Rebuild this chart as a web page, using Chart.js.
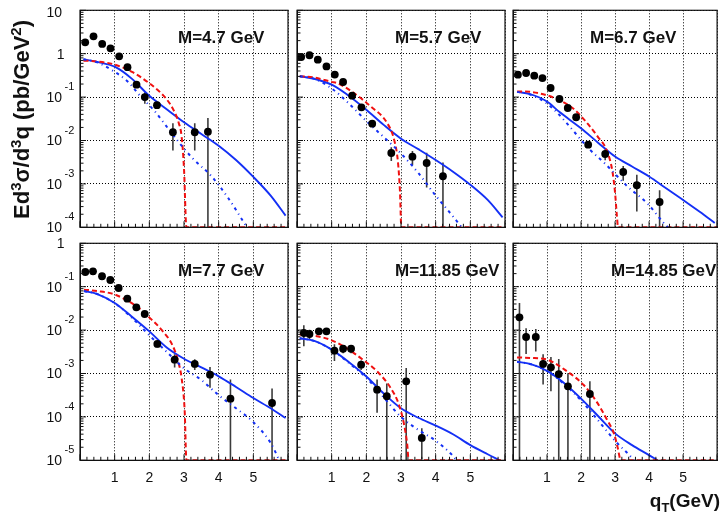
<!DOCTYPE html>
<html><head><meta charset="utf-8">
<script src="https://cdn.jsdelivr.net/npm/chart.js@4.4.1/dist/chart.umd.min.js"></script>
<style>
html,body{margin:0;padding:0;background:#fff;}
#wrap{position:relative;width:721px;height:514px;overflow:hidden;background:#fff;}
#wrap canvas{position:absolute;left:0;top:0;}
</style></head><body><div id="wrap"></div>
<script>
// ---------- labels ----------
const panelLabels = ['M=4.7 GeV','M=5.7 GeV','M=6.7 GeV','M=7.7 GeV','M=11.85 GeV','M=14.85 GeV'];
const xTickValues = [1,2,3,4,5];
const xTickLabels = ['1','2','3','4','5'];
const yDecadesTop = [10,1,0.1,0.01,0.001,0.0001];
const yBaseTop = ['10','1','10','10','10','10'];
const yExpTop = ['','','-1','-2','-3','-4'];
const yDecadesBot = [1,0.1,0.01,0.001,0.0001,0.00001];
const yBaseBot = ['1','10','10','10','10','10'];
const yExpBot = ['','-1','-2','-3','-4','-5'];

// ---------- panel 1 : M=4.7 GeV ----------
const qData1 = [0.15,0.39,0.64,0.88,1.13,1.37,1.63,1.87,2.22,2.68,3.31,3.69];
const sig1   = [1.83,2.52,1.68,1.33,0.87,0.49,0.193,0.100,0.065,0.0155,0.0155,0.016];
const err1   = [0.08,0.1,0.07,0.06,0.05,0.04,0.03,0.03,0.01,0.0096,0.0096,0.017];
const qSolid1 = [0.1,0.5,1.0,1.5,2.0,2.5,3.0,3.5,4.0,4.5,5.0,5.5,5.93];
const solid1  = [0.741,0.646,0.501,0.263,0.107,0.0525,0.0263,0.0141,0.00759,0.00355,0.00145,0.000537,0.000186];
const qDash1  = [0.1,0.5,1.0,1.5,2.0,2.3,2.5,2.7,2.85,2.93,3.0,3.07,6.0];
const dash1   = [0.692,0.661,0.562,0.380,0.209,0.132,0.0891,0.0501,0.0251,0.0126,0.00224,0.0001,0.0001];
const qDot1   = [0.1,0.5,0.9,1.39,1.72,2.16,2.49,2.83,3.26,3.79,4.27,4.8,4.9];
const dot1    = [0.741,0.631,0.427,0.224,0.110,0.0468,0.0214,0.00955,0.0038,0.00151,0.000479,0.000105,0.0000794];

// ---------- panel 2 : M=5.7 GeV ----------
const qData2 = [0.12,0.36,0.60,0.85,1.09,1.33,1.59,1.86,2.17,2.72,3.33,3.74,4.21];
const sig2   = [0.84,0.92,0.73,0.51,0.33,0.223,0.108,0.058,0.0244,0.00515,0.00423,0.00303,0.0015];
const err2   = [0.03,0.03,0.03,0.02,0.015,0.01,0.006,0.004,0.002,0.0018,0.0015,0.0022,0.0016];
const qSolid2 = [0.08,0.49,1.0,1.45,2.0,2.5,3.0,3.5,4.0,4.5,5.0,5.5,5.93];
const solid2  = [0.302,0.265,0.193,0.1135,0.0513,0.0229,0.011,0.00631,0.00355,0.00191,0.000955,0.000427,0.00017];
const qDash2  = [0.08,0.5,1.0,1.16,1.64,2.12,2.6,2.8,2.91,2.97,3.01,6.0];
const dash2   = [0.302,0.282,0.224,0.211,0.124,0.0614,0.0253,0.0105,0.00331,0.000676,0.0001,0.0001];
const qDot2   = [0.08,0.5,1.0,1.5,2.0,2.5,3.0,3.5,4.0,4.5,4.75,4.85];
const dot2    = [0.302,0.263,0.158,0.0708,0.0282,0.0120,0.00501,0.00178,0.000537,0.000178,0.0001,0.0000794];

// ---------- panel 3 : M=6.7 GeV ----------
const qData3 = [0.144,0.385,0.625,0.866,1.105,1.365,1.61,1.856,2.21,2.71,3.24,3.64,4.31];
const sig3   = [0.328,0.359,0.311,0.275,0.162,0.0904,0.0561,0.0343,0.0080,0.00489,0.00188,0.00093,0.000383];
const err3   = [0.01,0.01,0.01,0.01,0.008,0.005,0.003,0.002,0.0008,0.0014,0.0007,0.0007,0.00033];
const qSolid3 = [0.12,0.5,1.0,1.36,2.0,2.5,3.0,3.5,4.0,4.5,5.0,5.5,5.93];
const solid3  = [0.132,0.1175,0.0794,0.0457,0.0191,0.00891,0.00427,0.00251,0.00148,0.000794,0.000427,0.000224,0.000126];
const qDash3  = [0.12,0.5,1.0,1.36,1.78,2.16,2.5,2.75,2.92,3.0,3.05,3.09,6.0];
const dash3   = [0.135,0.132,0.110,0.0851,0.0537,0.0263,0.0120,0.00603,0.002,0.000631,0.0002,0.0001,0.0001];
const qDot3   = [0.12,0.5,1.0,1.36,1.8,2.22,2.7,3.38,3.95,4.44,4.55,4.65];
const dot3    = [0.132,0.115,0.0708,0.0389,0.0158,0.0066,0.00295,0.000851,0.000355,0.000123,0.0001,0.0000794];

// ---------- panel 4 : M=7.7 GeV ----------
const qData4 = [0.153,0.375,0.635,0.875,1.115,1.365,1.625,1.867,2.23,2.73,3.31,3.75,4.34,5.54];
const sig4   = [0.218,0.226,0.174,0.1426,0.0933,0.053,0.0335,0.0235,0.00479,0.00208,0.00166,0.00094,0.000263,0.000209];
const err4   = [0.01,0.01,0.008,0.006,0.004,0.003,0.002,0.0015,0.0008,0.0007,0.00046,0.00047,0.00046,0.00024];
const qSolid4 = [0.115,0.5,1.0,1.48,2.0,2.5,3.0,3.5,4.0,4.5,5.0,5.5,5.93];
const solid4  = [0.0794,0.0676,0.0421,0.0209,0.00933,0.00398,0.00219,0.00138,0.000861,0.00049,0.000272,0.000158,0.0000944];
const qDash4  = [0.115,0.5,1.0,1.625,1.96,2.35,2.68,2.83,2.93,3.02,3.07,6.0];
const dash4   = [0.0855,0.0794,0.0661,0.0355,0.0209,0.0102,0.00427,0.00191,0.000794,0.000135,0.00001,0.00001];
const qDot4   = [0.115,0.5,1.0,1.5,2.0,2.5,3.0,3.5,4.0,4.5,5.0,5.5,5.75];
const dot4    = [0.0794,0.0676,0.0417,0.0191,0.00759,0.00316,0.00132,0.000708,0.000316,0.000158,0.0000759,0.0000251,0.00001];

// ---------- panel 5 : M=11.85 GeV ----------
const qData5 = [0.197,0.36,0.63,0.85,1.08,1.33,1.56,1.85,2.31,2.59,3.15,3.6];
const sig5   = [0.00857,0.00813,0.00938,0.00938,0.00335,0.00372,0.00372,0.0016,0.000424,0.000299,0.00066,0.0000327];
const err5   = [0.0043,0.002,0.001,0.0015,0.0014,0.0008,0.0008,0.0004,0.0003,0.00029,0.00068,0.000022];
const qSolid5 = [0.08,0.5,1.0,1.5,2.0,2.5,3.0,3.5,4.0,4.5,5.0,5.5,5.85];
const solid5  = [0.00646,0.00562,0.00355,0.00182,0.000851,0.000347,0.000158,0.0000955,0.0000631,0.0000398,0.0000224,0.0000138,0.00001];
const qDash5  = [0.08,0.5,0.95,1.4,1.83,2.31,2.7,2.94,3.09,3.18,3.22,6.0];
const dash5   = [0.00794,0.00741,0.00603,0.00398,0.00229,0.00112,0.000468,0.000191,0.0000661,0.0000229,0.00001,0.00001];
const qDot5   = [0.08,0.5,1.0,1.5,2.0,2.5,3.0,3.5,4.0,4.5,4.6];
const dot5    = [0.00646,0.00562,0.00355,0.00174,0.000794,0.000282,0.0001,0.0000501,0.0000282,0.0000126,0.00001];

// ---------- panel 6 : M=14.85 GeV ----------
const qData6 = [0.19,0.385,0.67,0.885,1.115,1.345,1.615,2.26];
const sig6   = [0.0197,0.00693,0.00693,0.00166,0.00139,0.00097,0.000507,0.000337];
const err6   = [0.0225,0.0041,0.0037,0.0011,0.001,0.0012,0.0005,0.00033];
const qSolid6 = [0.12,0.5,1.0,1.5,2.0,2.5,3.0,3.5,4.0,4.25];
const solid6  = [0.00186,0.00166,0.00115,0.000603,0.000263,0.000105,0.0000417,0.0000224,0.0000132,0.00001];
const qDash6  = [0.12,0.5,1.0,1.59,2.07,2.45,2.74,2.98,3.08,3.17,6.0];
const dash6   = [0.00234,0.00229,0.00209,0.00112,0.00055,0.000229,0.0000933,0.0000389,0.0000191,0.00001,0.00001];
const qDot6   = [0.12,0.5,1.0,1.5,2.0,2.5,3.0,3.5,3.6];
const dot6    = [0.00186,0.00166,0.00115,0.000575,0.00024,0.0000832,0.0000282,0.0000112,0.0000089];

// ---------- layout (pixels) ----------
const W = 721, H = 514;
const COLX = [80, 297, 513], PW = 208;
const ROWY = [10.3, 243.3], PH = 217;
const LABEL_DX = [98, 98, 77, 98, 98, 98];
const FONT = '"Liberation Sans", Arial, Helvetica, sans-serif';

const panels = [
  {q:qData1,y:sig1,e:err1,s:[qSolid1,solid1],d:[qDash1,dash1],o:[qDot1,dot1]},
  {q:qData2,y:sig2,e:err2,s:[qSolid2,solid2],d:[qDash2,dash2],o:[qDot2,dot2]},
  {q:qData3,y:sig3,e:err3,s:[qSolid3,solid3],d:[qDash3,dash3],o:[qDot3,dot3]},
  {q:qData4,y:sig4,e:err4,s:[qSolid4,solid4],d:[qDash4,dash4],o:[qDot4,dot4]},
  {q:qData5,y:sig5,e:err5,s:[qSolid5,solid5],d:[qDash5,dash5],o:[qDot5,dot5]},
  {q:qData6,y:sig6,e:err6,s:[qSolid6,solid6],d:[qDash6,dash6],o:[qDot6,dot6]}
];

const pts = (xs, ys) => xs.map((x, i) => ({x: x, y: ys[i]}));

function drawRich(ctx, segs, x, y, align) {
  let total = 0;
  segs.forEach(s => { ctx.font = s[1]; total += ctx.measureText(s[0]).width; });
  let cx = align === 'right' ? x - total : (align === 'center' ? x - total / 2 : x);
  ctx.textAlign = 'left';
  segs.forEach(s => { ctx.font = s[1]; ctx.fillText(s[0], cx, y + s[2]); cx += ctx.measureText(s[0]).width; });
  return total;
}

function makePlugin(idx) {
  const p = panels[idx];
  const row = Math.floor(idx / 3), col = idx % 3;
  return {
    id: 'panelDeco' + idx,
    beforeDatasetsDraw(chart) {
      const {ctx, chartArea: a, scales} = chart;
      const xs = scales.x, ys = scales.y;
      ctx.save();
      ctx.beginPath(); ctx.rect(a.left, a.top, a.right - a.left, a.bottom - a.top); ctx.clip();
      ctx.strokeStyle = '#3c3c3c'; ctx.lineWidth = 1.6;
      p.q.forEach((q, i) => {
        const px = xs.getPixelForValue(q);
        const top = ys.getPixelForValue(p.y[i] + p.e[i]);
        const lo = p.y[i] - p.e[i];
        const bot = lo > 0 ? Math.min(ys.getPixelForValue(lo), a.bottom) : a.bottom;
        ctx.beginPath(); ctx.moveTo(px, top); ctx.lineTo(px, bot); ctx.stroke();
      });
      ctx.restore();
    },
    afterDraw(chart) {
      const {ctx, chartArea: a, scales} = chart;
      const xs = scales.x, ys = scales.y;
      ctx.save();
      ctx.strokeStyle = '#111'; ctx.lineWidth = 1.2;
      ctx.strokeRect(a.left, a.top, a.right - a.left, a.bottom - a.top);
      ctx.lineWidth = 1; ctx.strokeStyle = '#111';
      for (let k = 0; k <= 30; k++) {
        const px = xs.getPixelForValue(k / 5);
        const len = (k % 5 === 0) ? 6 : 3.5;
        ctx.beginPath(); ctx.moveTo(px, a.bottom); ctx.lineTo(px, a.bottom - len); ctx.stroke();
      }
      const decs = row === 0 ? yDecadesTop : yDecadesBot;
      decs.forEach(d => {
        for (let m = 1; m <= 9; m++) {
          const v = d * m;
          if (v > ys.max * 1.0001) continue;
          const py = ys.getPixelForValue(v);
          const len = m === 1 ? 6 : 3.5;
          ctx.beginPath(); ctx.moveTo(a.left, py); ctx.lineTo(a.left + len, py); ctx.stroke();
        }
      });
      ctx.fillStyle = '#111';
      ctx.font = 'bold 17px ' + FONT;
      ctx.textAlign = 'left'; ctx.textBaseline = 'alphabetic';
      ctx.fillText(panelLabels[idx], a.left + LABEL_DX[idx], a.top + 32.5);
      if (col === 0) {
        const bases = row === 0 ? yBaseTop : yBaseBot;
        const exps = row === 0 ? yExpTop : yExpBot;
        decs.forEach((d, i) => {
          const py = ys.getPixelForValue(d);
          ctx.textBaseline = 'middle';
          ctx.font = '14px ' + FONT;
          if (exps[i]) {
            ctx.textAlign = 'right'; ctx.fillText(bases[i], 62, py + 1);
            ctx.font = '11px ' + FONT; ctx.textAlign = 'left';
            ctx.fillText(exps[i], 64.5, py - 10);
          } else {
            ctx.textAlign = 'right';
            ctx.fillText(bases[i], bases[i] === '1' ? 64.5 : 62, py + (d === 10 ? 3 : 1));
          }
        });
      }
      if (row === 1) {
        ctx.font = '14px ' + FONT; ctx.textAlign = 'center'; ctx.textBaseline = 'middle';
        xTickValues.forEach((v, i) => ctx.fillText(xTickLabels[i], xs.getPixelForValue(v), 478.5));
      }
      if (idx === 5) {
        ctx.textBaseline = 'alphabetic';
        drawRich(ctx, [
          ['q', 'bold 19px ' + FONT, 0],
          ['T', 'bold 13px ' + FONT, 5],
          ['(GeV)', 'bold 19px ' + FONT, 0]
        ], 720, 506.5, 'right');
        ctx.save();
        ctx.translate(28.5, 119.5);
        ctx.rotate(-Math.PI / 2);
        const B = 'bold 22px ' + FONT, S = 'bold 15px ' + FONT;
        drawRich(ctx, [
          ['Ed', B, 0], ['3', S, -8], ['\u03C3', B, 0], ['/d', B, 0], ['3', S, -8],
          ['q (pb/GeV', B, 0], ['2', S, -8], [')', B, 0]
        ], 0, 0, 'center');
        ctx.restore();
      }
      ctx.restore();
    }
  };
}

const wrap = document.getElementById('wrap');
panels.forEach((p, idx) => {
  const row = Math.floor(idx / 3), col = idx % 3;
  const cv = document.createElement('canvas');
  cv.width = W; cv.height = H;
  cv.style.width = W + 'px'; cv.style.height = H + 'px';
  wrap.appendChild(cv);
  const left = COLX[col], top = ROWY[row];
  const decs = row === 0 ? yDecadesTop : yDecadesBot;
  const yMin = decs[decs.length - 1], yMax = decs[0];
  new Chart(cv, {
    type: 'line',
    data: {
      datasets: [
        {label: 'data', data: pts(p.q, p.y), showLine: false, pointRadius: 3.9, pointHoverRadius: 3.9,
         pointBackgroundColor: '#000', pointBorderColor: '#000', pointBorderWidth: 0, order: 0},
        {label: 'solid', data: pts(p.s[0], p.s[1]), borderColor: '#1430f5', borderWidth: 1.9, pointRadius: 0,
         cubicInterpolationMode: 'monotone', fill: false, order: 3},
        {label: 'dashed', data: pts(p.d[0], p.d[1]), borderColor: '#f01010', borderWidth: 2, borderDash: [5, 3],
         pointRadius: 0, cubicInterpolationMode: 'monotone', fill: false, order: 2},
        {label: 'dashdot', data: pts(p.o[0], p.o[1]), borderColor: '#1430f5', borderWidth: 2, borderDash: [3, 4, 1, 4],
         pointRadius: 0, cubicInterpolationMode: 'monotone', fill: false, order: 1}
      ]
    },
    options: {
      responsive: false, animation: false, devicePixelRatio: 1,
      events: [],
      layout: {padding: {left: left, top: top, right: W - left - PW, bottom: H - top - PH}},
      plugins: {legend: {display: false}, tooltip: {enabled: false}},
      scales: {
        x: {type: 'linear', min: 0, max: 6,
            ticks: {display: false, stepSize: 1},
            grid: {color: '#000', lineWidth: 1, drawTicks: false},
            border: {display: true, color: '#111', width: 1, dash: [1, 2]}},
        y: {type: 'logarithmic', min: yMin, max: yMax,
            ticks: {display: false},
            afterBuildTicks: (axis) => { axis.ticks = decs.map(v => ({value: v})); },
            grid: {color: '#000', lineWidth: 1, drawTicks: false},
            border: {display: true, color: '#111', width: 1, dash: [1, 2]}}
      }
    },
    plugins: [makePlugin(idx)]
  });
});
</script></body></html>
